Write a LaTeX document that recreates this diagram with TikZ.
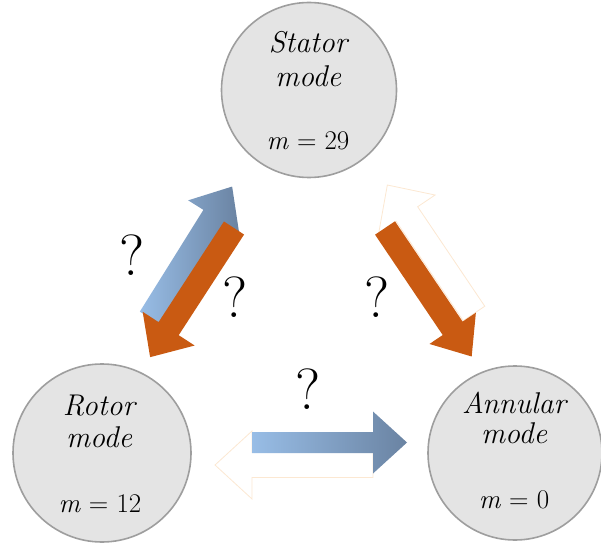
\documentclass[tikz,border=0pt]{standalone}
\usepackage{fontspec}
\setmainfont{Latin Modern Roman}
\definecolor{circfill}{HTML}{E4E4E4}
\definecolor{circline}{HTML}{9E9E9E}
\definecolor{blueL}{HTML}{98BDE6}
\definecolor{blueM}{HTML}{9AA8CA}
\definecolor{blueD}{HTML}{6A83A2}
\definecolor{orangeL}{HTML}{E57524}
\definecolor{orangeD}{HTML}{C95A12}
\definecolor{glow}{HTML}{FCE8D2}
\newcommand\blockarrow[7]{%
  \begin{scope}[shift={#2},rotate=#3]
    \path[#1] (0,-#5) -- ({#4-#7},-#5) -- ({#4-#7},-#6) -- (#4,0)
      -- ({#4-#7},#6) -- ({#4-#7},#5) -- (0,#5) -- cycle;
  \end{scope}}
\begin{document}
\begin{tikzpicture}[x=1pt,y=1pt,
  modecircle/.style={circle, fill=circfill, draw=circline, line width=1.6pt, inner sep=0pt},
  modetext/.style={anchor=base, inner sep=0pt, font=\fontsize{30}{34}\selectfont\itshape},
  modenum/.style={anchor=base, inner sep=0pt, font=\fontsize{27}{30}\selectfont},
  qmark/.style={inner sep=0pt, font=\fontsize{58}{64}\selectfont},
  whitearrow/.style={fill=white, draw=glow, line width=0.8pt},
  bluearrow/.style={left color=blueL, middle color=blueM, right color=blueD},
  orangearrow/.style={top color=orangeD, middle color=orangeL, bottom color=orangeD}]
\useasboundingbox (0,0) rectangle (601,549);

% mode circles
\node[modecircle, minimum size=175pt] (stator) at (309,459) {};
\node[modecircle, minimum size=178pt] (rotor) at (102,96) {};
\node[modecircle, minimum size=174pt] (annular) at (515,96) {};

\node[modetext] (statorname) at (308,496) {Stator};
\node[modetext] (statormode) at (308,462) {mode};
\node[modenum] (statorm) at (308,399) {\textit{m} = 29};

\node[modetext] (rotorname) at (99,134) {Rotor};
\node[modetext] (rotormode) at (99,102) {mode};
\node[modenum] (rotorm) at (100,37) {\textit{m} = 12};

\node[modetext] (annularname) at (514,136) {Annular};
\node[modetext] (annularmode) at (514,106) {mode};
\node[modenum] (annularm) at (514,41) {\textit{m} = 0};

% white arrows (underneath)
\blockarrow{whitearrow}{(474,235.5)}{124}{155}{13}{34}{35}
\blockarrow{whitearrow}{(373,84)}{180}{158}{12.5}{34}{37}

% blue arrows
\blockarrow{bluearrow}{(150,231)}{58}{155}{12}{30}{35}
\blockarrow{bluearrow}{(252,106.5)}{0}{155}{10.5}{31}{34}

% orange arrows
\blockarrow{orangearrow}{(234,321)}{237}{154}{12}{31}{34}
\blockarrow{orangearrow}{(385,321)}{-56}{155}{12}{28}{34}

% question marks
\node[qmark] (q1) at (132,294) {?};
\node[qmark] (q2) at (235,252) {?};
\node[qmark] (q3) at (377,252) {?};
\node[qmark] (q4) at (308,160) {?};
\end{tikzpicture}
\end{document}
